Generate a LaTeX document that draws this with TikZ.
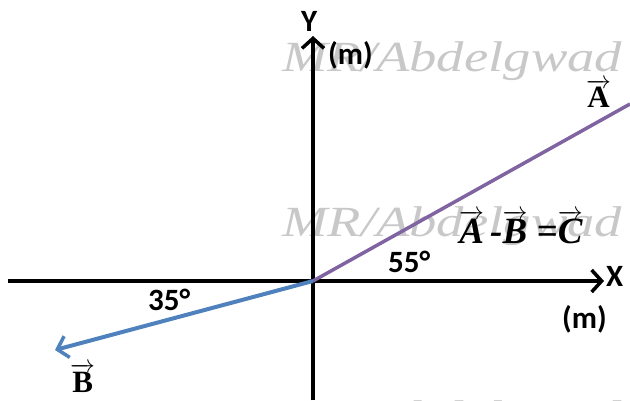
\documentclass[tikz,border=0pt]{standalone}
\usepackage{fontspec}
\setmainfont{Carlito}
\newfontfamily\serifvec{Liberation Serif}
\usetikzlibrary{arrows.meta}
\definecolor{vecA}{RGB}{128,100,162}
\definecolor{vecB}{RGB}{79,129,189}
\definecolor{wmgray}{RGB}{200,200,200}
\tikzset{
  axis/.style={line width=4.5pt,-{Straight Barb[length=10pt,width=22pt,line width=3.5pt]}},
  lbl/.style={font=\fontsize{31}{33}\selectfont\bfseries,inner sep=0pt,anchor=base west},
  vlbl/.style={font=\serifvec\fontsize{31}{33}\selectfont\bfseries,inner sep=0pt,anchor=base west},
  wm/.style={font=\serifvec\fontsize{43}{45}\selectfont\itshape,text=wmgray,inner sep=0pt,
    anchor=base west,xscale=1.27,transform shape},
}
\newcommand{\vecsym}[1]{\ensuremath{\overrightarrow{\mbox{#1}}}}
\begin{document}
\begin{tikzpicture}[x=1pt,y=1pt]
      \useasboundingbox (0,0) rectangle (630,400);
      % watermark
      \begin{scope}
        \clip (0,0) rectangle (630,400);
        \node[wm] (wm1) at (282,328) {MR/Abdelgwad};
        \node[wm] (wm2) at (282,164) {MR/Abdelgwad};
        \node[wm] (wm3) at (282,-30) {MR/Abdelgwad};
      \end{scope}
      \coordinate (O) at (313,119);
      \coordinate (xl) at (8,119);
      \coordinate (xr) at (604,119);
      \coordinate (yb) at (313,0);
      \coordinate (yt) at (313,364);
      \coordinate (a) at (630,296);
      \coordinate (b) at (55,50);
      \draw[axis] (xl) -- (xr);
      \draw[axis] (yb) -- (yt);
      \draw[vecA,line width=3.5pt] (O) -- (a);
      \draw[vecB,line width=4pt,-{Straight Barb[length=10pt,width=22pt,line width=3.5pt]}] (O) -- (b);
      \draw
        (301,368) node[lbl] (Y){Y}
        (328,335) node[lbl] (my){(m)}
        (606,114) node[lbl] (X){X}
        (562,72) node[lbl] (mx){(m)}
        (388,128) node[lbl] (55){55°}
        (148,90) node[lbl] (35){35°}
        (586,292) node[vlbl] (A){\vecsym{A}}
        (70,8) node[vlbl] (B){\vecsym{B}};
      \node[vlbl,font=\serifvec\fontsize{37}{39}\selectfont\bfseries\itshape] (eq) at (459,157)
        {\vecsym{A}\,-\vecsym{B}\ =\vecsym{C}};
    \end{tikzpicture}
\end{document}
